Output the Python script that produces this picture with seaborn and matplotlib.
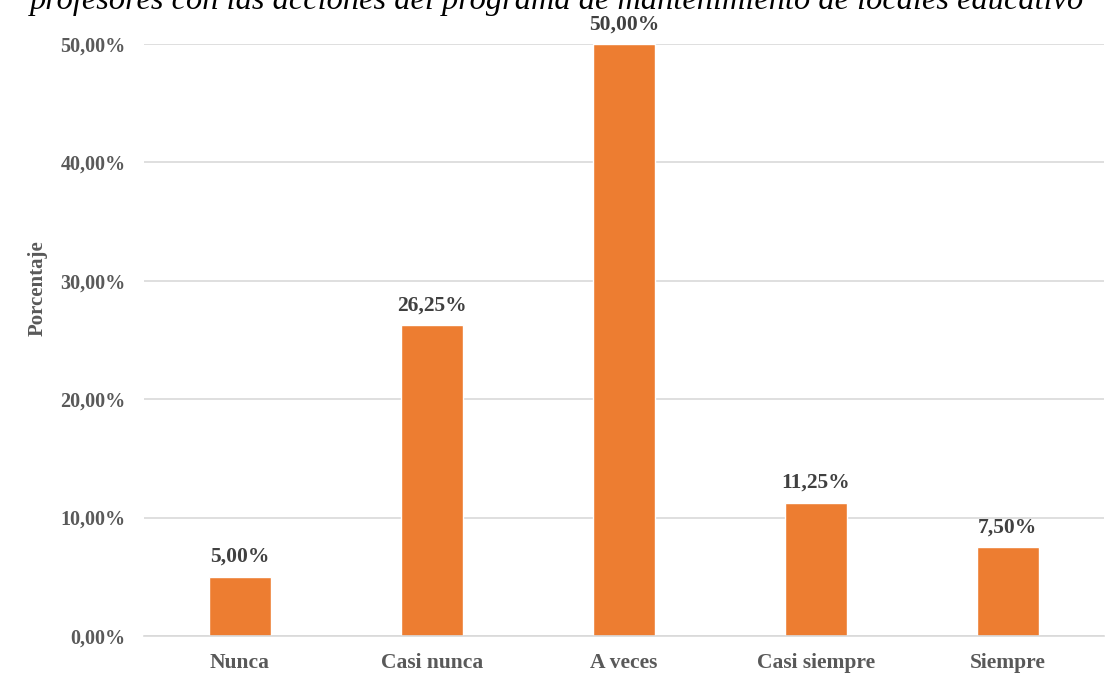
import matplotlib
matplotlib.use("Agg")
import matplotlib.pyplot as plt
import seaborn as sns
import pandas as pd

categories = ["Nunca", "Casi nunca", "A veces", "Casi siempre", "Siempre"]
values = [5.00, 26.25, 50.00, 11.25, 7.50]
yticks = [0, 10, 20, 30, 40, 50]
title = "profesores con las acciones del programa de mantenimiento de locales educativo"

sns.set_theme(style="white")
plt.rcParams['font.family'] = ['Liberation Serif', 'DejaVu Serif']

df = pd.DataFrame({"cat": categories, "val": values})

fig = plt.figure(figsize=(11.15, 6.86), dpi=100)
ax = fig.add_axes([0.129, 0.0729, 0.861, 0.863])
sns.barplot(data=df, x="cat", y="val", color="#ED7D31", width=0.32, ax=ax, saturation=1)

ax.set_ylim(0, 50)
ax.set_yticks(yticks)
ax.set_yticklabels([f"{t:.2f}%".replace(".", ",") for t in yticks],
                   fontsize=14.5, fontweight="bold", color="#595959")
for lbl in ax.get_xticklabels():
    lbl.set_fontsize(15.5)
    lbl.set_fontweight("bold")
    lbl.set_color("#595959")
ax.tick_params(axis="y", length=0, pad=13)
ax.tick_params(axis="x", length=0, pad=12)
ax.grid(axis="y", color="#d9d9d9", linewidth=1.2)
ax.set_axisbelow(True)
for s in ["top", "right", "left"]:
    ax.spines[s].set_visible(False)
ax.spines["bottom"].set_color("#d9d9d9")
ax.spines["bottom"].set_linewidth(1.2)
ax.set_xlabel("")
ax.set_ylabel("Porcentaje", fontsize=15, fontweight="bold", color="#595959")
ax.yaxis.set_label_coords(-0.10, 0.588)

for i, v in enumerate(values):
    ax.annotate(f"{v:.2f}%".replace(".", ","), (i, v), xytext=(0, 7), textcoords="offset points",
                ha="center", va="bottom", fontsize=15.5, fontweight="bold", color="#404040")

fig.text(0.5, 1 - 9/686, title, ha="center", va="baseline", fontsize=23.3,
         fontstyle="italic", color="#000000")

fig.savefig("out.png", dpi=100)
